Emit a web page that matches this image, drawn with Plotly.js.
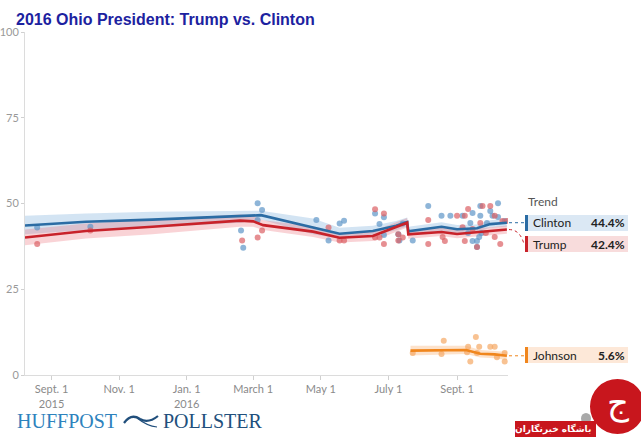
<!DOCTYPE html>
<html>
<head>
<meta charset="utf-8">
<script src="https://cdn.plot.ly/plotly-3.0.1.min.js"></script>
<style>
  html, body { margin: 0; padding: 0; background: #fff; }
  #chart { width: 641px; height: 439px; }
</style>
</head>
<body>
<div id="chart"></div>
<script>
// ---- Poll estimates (percent) ----
const clintonPollDates = ['2015-08-19','2015-10-06','2016-02-19','2016-02-21','2016-03-05','2016-03-05','2016-03-09','2016-04-27','2016-05-08','2016-05-18','2016-05-22','2016-06-19','2016-06-23','2016-06-27','2016-06-27','2016-07-10','2016-07-11','2016-07-14','2016-07-23','2016-08-06','2016-08-18','2016-08-26','2016-09-06','2016-09-11','2016-09-13','2016-09-15','2016-09-15','2016-09-19','2016-09-19','2016-09-21','2016-09-22','2016-09-22','2016-09-23','2016-09-28','2016-10-01','2016-10-03','2016-10-08','2016-10-08','2016-10-14'];
const clintonPollValues = [43.0,43.2,42.1,37.1,50.1,45.2,48.1,45.2,39.2,44.2,45.0,47.1,44.0,46.0,40.8,41.0,39.2,44.2,39.2,49.3,46.4,46.4,46.4,41.4,44.3,47.2,39.1,39.1,37.3,40.2,49.3,46.4,41.4,44.3,47.8,46.4,50.1,46.1,44.9];

const trumpPollDates = ['2015-08-19','2015-10-06','2016-02-20','2016-03-05','2016-03-09','2016-05-08','2016-05-18','2016-05-22','2016-06-19','2016-06-19','2016-06-23','2016-06-27','2016-06-27','2016-07-10','2016-07-10','2016-07-14','2016-08-06','2016-08-06','2016-08-19','2016-08-21','2016-09-01','2016-09-06','2016-09-08','2016-09-08','2016-09-11','2016-09-15','2016-09-19','2016-09-22','2016-09-24','2016-09-27','2016-10-01','2016-10-05','2016-10-05','2016-10-10','2016-10-12','2016-10-16'];
const trumpPollValues = [38.2,42.1,39.2,40.1,42.1,43.0,39.2,39.2,48.3,40.1,40.1,47.1,38.2,41.0,39.2,40.1,45.2,38.2,40.2,39.1,46.4,43.1,46.4,39.1,48.4,42.6,37.3,44.3,49.3,41.4,49.3,46.4,40.2,38.2,44.9,44.9];

const johnsonPollDates = ['2016-07-23','2016-08-18','2016-08-20','2016-09-10','2016-09-11','2016-09-13','2016-09-18','2016-09-19','2016-09-21','2016-10-01','2016-10-05','2016-10-07','2016-10-14','2016-10-14'];
const johnsonPollValues = [6.4,6.1,10.0,6.6,8.2,3.9,11.1,6.4,8.2,8.2,8.2,5.2,3.9,6.4];

// ---- Trend estimates with uncertainty band ----
const clintonTrendDates = ['2015-08-08','2015-10-02','2015-12-01','2016-02-18','2016-03-08','2016-04-24','2016-05-18','2016-06-17','2016-07-08','2016-07-18','2016-07-19','2016-08-18','2016-09-01','2016-09-19','2016-10-01','2016-10-16'];
const clintonTrend = [43.6,44.7,45.3,46.2,46.6,43.0,41.2,42.0,43.5,44.6,41.9,43.2,42.5,42.8,44.0,44.4];
const clintonLow   = [41.0,42.3,43.0,44.4,45.3,41.0,39.8,40.6,42.2,43.4,40.6,42.0,41.3,41.7,42.9,43.2];
const clintonHigh  = [46.4,47.1,47.6,48.0,47.9,45.6,42.9,43.5,44.9,45.9,43.2,44.5,43.7,43.9,45.1,45.6];

const trumpTrendDates = ['2015-08-08','2015-10-02','2015-12-01','2016-02-18','2016-03-01','2016-03-10','2016-04-24','2016-05-18','2016-06-17','2016-07-08','2016-07-18','2016-07-19','2016-08-18','2016-09-01','2016-09-19','2016-10-01','2016-10-16'];
const trumpTrend = [40.1,42.0,43.2,45.0,44.8,43.7,41.8,40.0,40.5,43.0,44.4,41.0,41.7,41.1,41.6,42.0,42.4];
const trumpLow   = [37.8,39.8,41.0,43.2,43.2,42.3,40.2,38.6,39.1,41.6,43.0,39.7,40.5,39.9,40.5,40.9,41.2];
const trumpHigh  = [42.4,44.2,45.4,46.8,46.4,45.1,43.4,41.4,41.9,44.4,45.8,42.3,42.9,42.3,42.7,43.1,43.6];

const johnsonTrendDates = ['2016-07-21','2016-08-18','2016-09-09','2016-09-22','2016-10-05','2016-10-16'];
const johnsonTrend = [7.1,7.3,7.3,6.2,6.0,5.6];
const johnsonLow   = [5.7,6.0,6.1,5.1,4.9,4.4];
const johnsonHigh  = [8.5,8.6,8.5,7.3,7.1,6.8];

// ---- Axis ticks ----
const xTickVals = ['2015-09-01','2015-11-01','2016-01-01','2016-03-01','2016-05-01','2016-07-01','2016-09-01'];
const xTickText = ['Sept. 1<br>2015','Nov. 1','Jan. 1<br>2016','March 1','May 1','July 1','Sept. 1'];
const yTickVals = [0,25,50,75,100];

// ---- Colours ----
const C = { line: '#2b6ca4', dot: 'rgba(94,150,200,0.7)', band: 'rgba(120,172,218,0.33)', box: '#dbe8f4' };
const T = { line: '#c8222a', dot: 'rgba(220,95,100,0.7)', band: 'rgba(236,110,120,0.30)', box: '#f8dcdc' };
const J = { line: '#f0861d', dot: 'rgba(245,168,100,0.7)', band: 'rgba(250,186,130,0.42)', box: '#fde8d8' };

function band(dates, lo, hi, fill) {
  return [
    { x: dates, y: lo, mode: 'lines', line: { width: 0 }, hoverinfo: 'skip', showlegend: false },
    { x: dates, y: hi, mode: 'lines', line: { width: 0 }, fill: 'tonexty', fillcolor: fill, hoverinfo: 'skip', showlegend: false }
  ];
}
function dots(dates, vals, color) {
  return { x: dates, y: vals, mode: 'markers', marker: { size: 6, color: color }, showlegend: false };
}
function trend(dates, vals, color) {
  return { x: dates, y: vals, mode: 'lines', line: { color: color, width: 2.6 }, showlegend: false };
}

const traces = [
  ...band(clintonTrendDates, clintonLow, clintonHigh, C.band),
  ...band(trumpTrendDates, trumpLow, trumpHigh, T.band),
  ...band(johnsonTrendDates, johnsonLow, johnsonHigh, J.band),
  dots(clintonPollDates, clintonPollValues, C.dot),
  dots(trumpPollDates, trumpPollValues, T.dot),
  dots(johnsonPollDates, johnsonPollValues, J.dot),
  trend(clintonTrendDates, clintonTrend, C.line),
  trend(trumpTrendDates, trumpTrend, T.line),
  trend(johnsonTrendDates, johnsonTrend, J.line)
];

// Plot area in page pixels, used to place the side panel and footer
const L = 25, R = 508, TOP = 32, BOT = 375;
const px = x => (x - L) / (R - L);
const py = y => (BOT - y) / (BOT - TOP);
const yPix = v => BOT - v / 100 * (BOT - TOP);

const last = a => a[a.length - 1];
const entries = [
  { name: 'Clinton', val: last(clintonTrend), col: C, yMid: 223 },
  { name: 'Trump',   val: last(trumpTrend),   col: T, yMid: 244 },
  { name: 'Johnson', val: last(johnsonTrend), col: J, yMid: 355 }
];

const shapes = [];
const annotations = [];

annotations.push({ xref: 'paper', yref: 'paper', x: px(526), y: py(201), xanchor: 'left', yanchor: 'middle',
  text: 'Trend', showarrow: false, font: { family: 'Lato, sans-serif', size: 12, color: '#555' } });

entries.forEach(e => {
  shapes.push({ type: 'rect', xref: 'paper', yref: 'paper', x0: px(525), x1: px(628), y0: py(e.yMid + 8), y1: py(e.yMid - 8),
    fillcolor: e.col.box, line: { width: 0 }, layer: 'above' });
  shapes.push({ type: 'rect', xref: 'paper', yref: 'paper', x0: px(525), x1: px(528), y0: py(e.yMid + 8), y1: py(e.yMid - 8),
    fillcolor: e.col.line, line: { width: 0 }, layer: 'above' });
  annotations.push({ xref: 'paper', yref: 'paper', x: px(531), y: py(e.yMid), xanchor: 'left', yanchor: 'middle',
    text: e.name, showarrow: false, font: { family: 'Lato, sans-serif', size: 12, color: '#222' } });
  annotations.push({ xref: 'paper', yref: 'paper', x: px(627), y: py(e.yMid), xanchor: 'right', yanchor: 'middle',
    text: '<b>' + e.val.toFixed(1) + '%</b>', showarrow: false, font: { family: 'Lato, sans-serif', size: 12, color: '#222' } });
});

// Dotted leaders from the trend ends to the panel
const cEnd = yPix(last(clintonTrend)), tEnd = yPix(last(trumpTrend)), jEnd = yPix(last(johnsonTrend));
shapes.push({ type: 'path', xref: 'paper', yref: 'paper',
  path: `M${px(509)},${py(cEnd)} L${px(524)},${py(cEnd)}`,
  line: { color: C.line, width: 1, dash: 'dot' }, layer: 'above' });
shapes.push({ type: 'path', xref: 'paper', yref: 'paper',
  path: `M${px(509)},${py(tEnd)} Q${px(520)},${py(tEnd)} ${px(524)},${py(244)}`,
  line: { color: T.line, width: 1, dash: 'dot' }, layer: 'above' });
shapes.push({ type: 'path', xref: 'paper', yref: 'paper',
  path: `M${px(509)},${py(jEnd)} L${px(524)},${py(jEnd)}`,
  line: { color: J.line, width: 1, dash: 'dot' }, layer: 'above' });

// Footer brand
annotations.push({ xref: 'paper', yref: 'paper', x: px(15), y: py(421), xanchor: 'left', yanchor: 'middle',
  text: 'HUFFPOST', showarrow: false, font: { family: 'Liberation Serif, serif', size: 20, color: '#2d82bd' } });
annotations.push({ xref: 'paper', yref: 'paper', x: px(161), y: py(421), xanchor: 'left', yanchor: 'middle',
  text: 'POLLSTER', showarrow: false, font: { family: 'Liberation Serif, serif', size: 20, color: '#214f7c' } });
shapes.push({ type: 'path', xref: 'paper', yref: 'paper',
  path: `M${px(124)},${py(423)} Q${px(131)},${py(413)} ${px(140)},${py(419)} Q${px(148)},${py(424)} ${px(158)},${py(416)}`,
  line: { color: '#214f7c', width: 2.2 }, layer: 'above' });
shapes.push({ type: 'path', xref: 'paper', yref: 'paper',
  path: `M${px(137)},${py(418)} Q${px(147)},${py(426)} ${px(157)},${py(427)}`,
  line: { color: '#214f7c', width: 1.2 }, layer: 'above' });

// Corner badge
shapes.push({ type: 'circle', xref: 'paper', yref: 'paper', x0: px(581), x1: px(591), y0: py(424), y1: py(413),
  fillcolor: '#a9a9a9', line: { width: 0 }, layer: 'above' });
shapes.push({ type: 'rect', xref: 'paper', yref: 'paper', x0: px(515), x1: px(596), y0: py(437), y1: py(421),
  fillcolor: '#c8161d', line: { width: 0 }, layer: 'above' });
shapes.push({ type: 'circle', xref: 'paper', yref: 'paper', x0: px(590), x1: px(645), y0: py(434), y1: py(379),
  fillcolor: '#c8161d', line: { width: 0 }, layer: 'above' });
annotations.push({ xref: 'paper', yref: 'paper', x: px(618), y: py(402), xanchor: 'center', yanchor: 'middle',
  text: 'ج', showarrow: false, font: { family: 'DejaVu Sans, sans-serif', size: 34, color: '#fff' } });
annotations.push({ xref: 'paper', yref: 'paper', x: px(553), y: py(429), xanchor: 'center', yanchor: 'middle',
  text: '<b>باشگاه خبرنگاران</b>', showarrow: false, font: { family: 'DejaVu Sans, sans-serif', size: 9, color: '#fff' } });

const layout = {
  width: 641, height: 439,
  margin: { l: L, r: 641 - R, t: TOP, b: 439 - BOT, pad: 0 },
  paper_bgcolor: '#fff', plot_bgcolor: '#fff',
  showlegend: false,
  title: {
    text: '<b>2016 Ohio President: Trump vs. Clinton</b>',
    font: { family: 'Liberation Sans, Arial, sans-serif', size: 16, color: '#1c22a0' },
    xref: 'container', yref: 'container', x: 16 / 641, xanchor: 'left', y: 1 - 19 / 439, yanchor: 'middle'
  },
  xaxis: {
    type: 'date', range: ['2015-08-08', '2016-10-17'],
    tickmode: 'array', tickvals: xTickVals, ticktext: xTickText,
    showgrid: false, zeroline: false, showline: true, linecolor: '#dcdcdc', linewidth: 1,
    ticks: 'outside', ticklen: 4, tickcolor: '#d0d0d0',
    tickfont: { family: 'Lato, sans-serif', size: 11, color: '#8a8a8a' }
  },
  yaxis: {
    range: [0, 100], tickmode: 'array', tickvals: yTickVals,
    showgrid: false, zeroline: false, showline: true, linecolor: '#dcdcdc', linewidth: 1,
    ticks: 'outside', ticklen: 3, tickcolor: '#d0d0d0',
    tickfont: { family: 'Lato, sans-serif', size: 11, color: '#999' }
  },
  shapes: shapes,
  annotations: annotations
};

Plotly.newPlot('chart', traces, layout, { displayModeBar: false, staticPlot: true });
</script>
</body>
</html>
